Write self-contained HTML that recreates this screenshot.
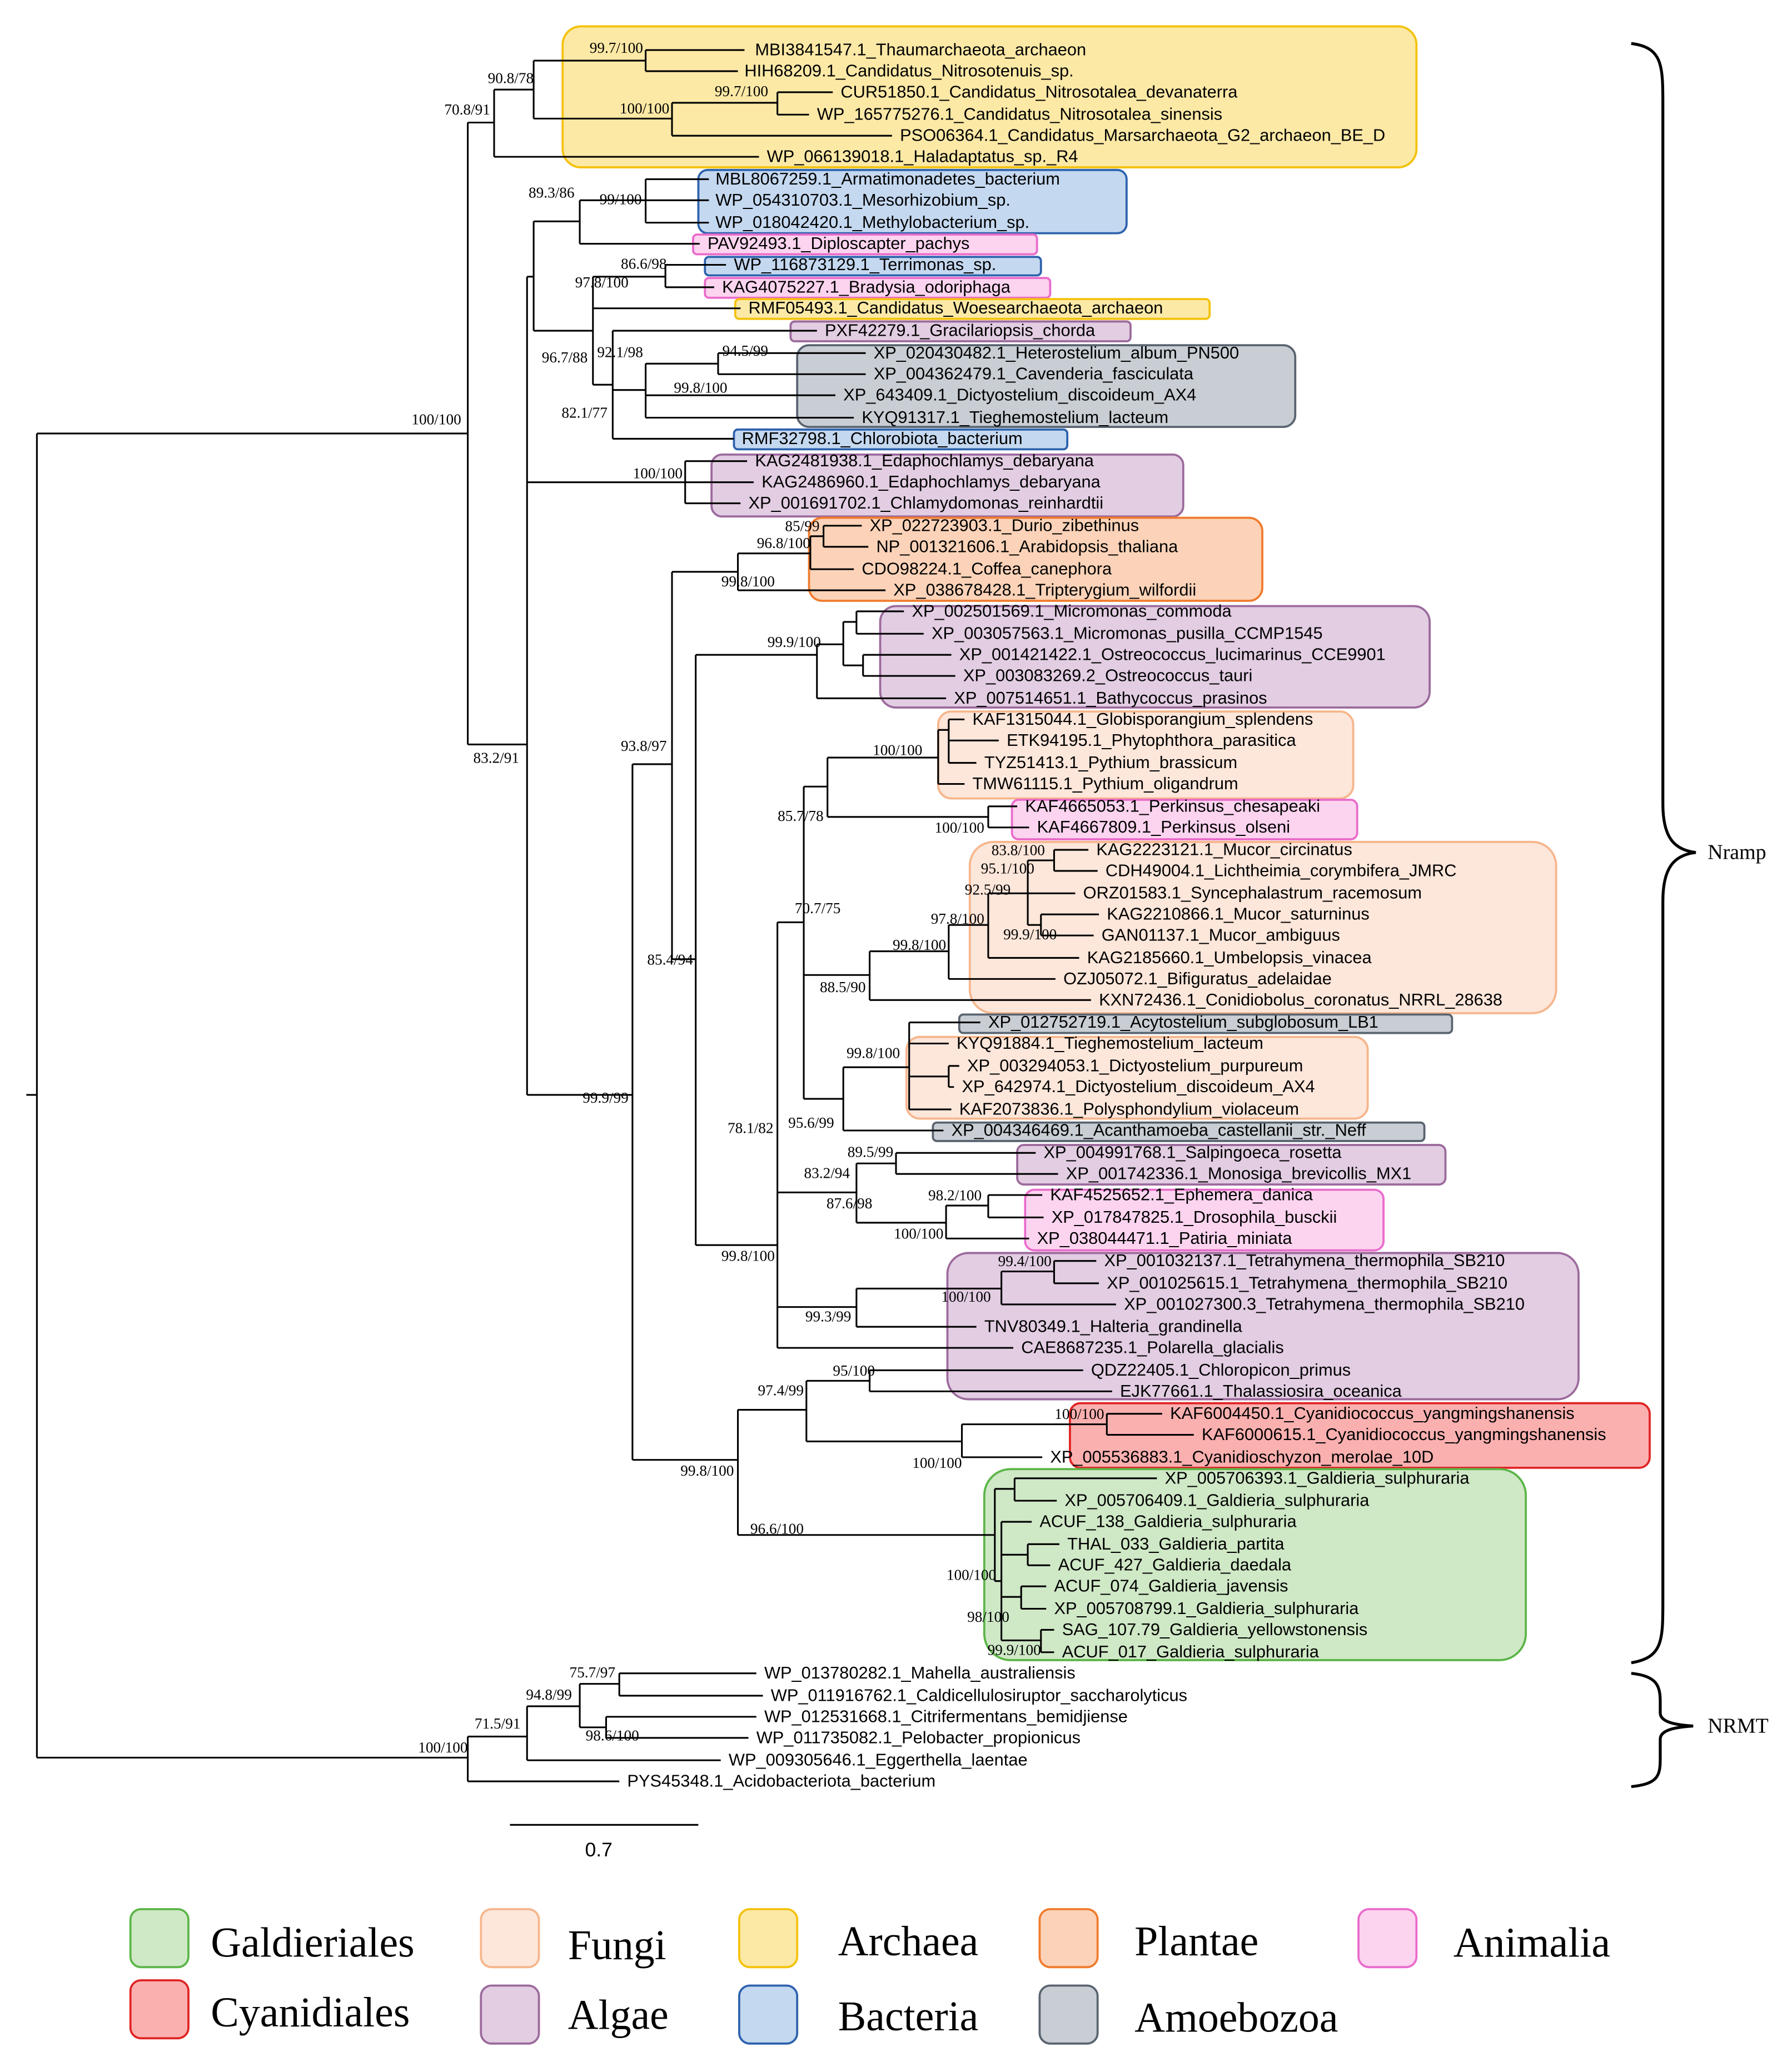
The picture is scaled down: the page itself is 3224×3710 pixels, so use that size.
<!DOCTYPE html>
<html><head><meta charset="utf-8"><style>html,body{margin:0;padding:0;background:#fff}svg{display:block}</style></head><body>
<svg xmlns="http://www.w3.org/2000/svg" width="3224" height="3710" viewBox="0 0 1360 1565">
<rect width="1360" height="1565" fill="#fff"/>
<g stroke-width="1.6">
<rect x="427" y="20" width="648" height="107" rx="14" fill="#fde9a6" stroke="#f4c20d"/>
<rect x="530" y="129" width="325" height="48" rx="7" fill="#c4d8f0" stroke="#2e62ad"/>
<rect x="526" y="178" width="261" height="15" rx="3" fill="#fcd4ef" stroke="#ea6bcb"/>
<rect x="535" y="195" width="255" height="14" rx="3" fill="#c4d8f0" stroke="#2e62ad"/>
<rect x="535" y="211" width="262" height="15" rx="3" fill="#fcd4ef" stroke="#ea6bcb"/>
<rect x="558" y="227" width="360" height="15" rx="3" fill="#fde9a6" stroke="#f4c20d"/>
<rect x="600" y="244" width="258" height="15" rx="3" fill="#e2cde2" stroke="#9c6a9c"/>
<rect x="605" y="262" width="378" height="62" rx="9" fill="#c9ced4" stroke="#5a6470"/>
<rect x="557" y="326" width="253" height="15" rx="3" fill="#c4d8f0" stroke="#2e62ad"/>
<rect x="540" y="345" width="358" height="47" rx="8" fill="#e2cde2" stroke="#9c6a9c"/>
<rect x="614" y="393" width="344" height="63" rx="10" fill="#fcd3b8" stroke="#f07b2e"/>
<rect x="668" y="460" width="417" height="77" rx="12" fill="#e2cde2" stroke="#9c6a9c"/>
<rect x="712" y="540" width="315" height="66" rx="10" fill="#fde6da" stroke="#f6b68c"/>
<rect x="768" y="607" width="262" height="30" rx="5" fill="#fcd4ef" stroke="#ea6bcb"/>
<rect x="736" y="639" width="445" height="130" rx="18" fill="#fde6da" stroke="#f6b68c"/>
<rect x="728" y="770" width="374" height="14" rx="3" fill="#c9ced4" stroke="#5a6470"/>
<rect x="688" y="787" width="350" height="62" rx="10" fill="#fde6da" stroke="#f6b68c"/>
<rect x="708" y="852" width="373" height="14" rx="3" fill="#c9ced4" stroke="#5a6470"/>
<rect x="772" y="869" width="325" height="30" rx="5" fill="#e2cde2" stroke="#9c6a9c"/>
<rect x="778" y="903" width="272" height="46" rx="7" fill="#fcd4ef" stroke="#ea6bcb"/>
<rect x="719" y="951" width="479" height="111" rx="16" fill="#e2cde2" stroke="#9c6a9c"/>
<rect x="812" y="1065" width="440" height="49" rx="8" fill="#fbb0b0" stroke="#e02424"/>
<rect x="747" y="1115" width="411" height="145" rx="20" fill="#cfe8c6" stroke="#5cb548"/>
</g>
<g stroke="#000" stroke-width="1.3" fill="none">
<path d="M20 831H28M28 329V1334M28 329H355M355 93V565M28 1334H355
M355 93H375M375 68V119M375 68H405M405 46V90M405 46H490M490 38V54M490 38H565M490 54H560
M405 90H510M510 78V103M510 78H590M590 70V87M590 70H632M590 87H614M510 103H677M375 119H576
M355 565H400M400 210V831M400 210H405M405 168V251M405 168H440M440 152V185M440 152H490M490 136V169M490 136H538M490 152H538M490 169H538M440 185H531
M405 251H450M450 210V292M450 210H505M505 201V218M505 201H551M505 218H542M450 234H562M450 292H465M465 251V333M465 251H620M465 296H490M490 276V317M490 276H545M545 268V284M545 268H657M545 284H657M490 300H634M490 317H648M465 333H557
M400 366H520M520 350V382M520 350H567M520 366H572M520 382H562
M400 831H480M480 580V1108M480 580H510M510 434V728M510 434H560M560 420V448M560 420H615M615 407V432M615 407H625M625 399V415M625 399H654M625 415H659M615 432H648M560 448H672
M510 728H528M528 497V945M528 497H620M620 489V530M620 489H640M640 472V505M640 472H650M650 464V481M650 464H686M650 481H701M640 505H655M655 497V513M655 497H722M655 513H725M620 530H718
M528 945H590M590 700V1023M590 700H610M610 597V834M610 597H628M628 575V620M628 575H712M712 554V595M712 554H720M720 546V579M720 546H732M720 562H758M720 579H741M712 595H732M628 620H750M750 612V628M750 612H772M750 628H781
M610 740H660M660 722V759M660 722H720M720 702V743M720 702H750M750 678V727M750 678H780M780 653V702M780 653H800M800 645V661M800 645H826M800 661H833M780 678H816M780 702H790M790 694V710M790 694H834M790 710H830M750 727H819M720 743H801M660 759H828
M610 834H640M640 810V858M640 810H690M690 776V842M690 776H744M690 792H720M690 817H720M720 809V825M720 809H728M720 825H724M690 842H722M640 858H716
M590 905H650M650 883V928M650 883H680M680 875V891M680 875H786M680 891H803M650 928H718M718 915V940M718 915H750M750 907V924M750 907H791M750 924H792M718 940H781
M590 992H650M650 978V1007M650 978H760M760 965V990M760 965H800M800 957V974M800 957H832M800 974H834M760 990H847M650 1007H741M590 1023H769
M480 1108H560M560 1070V1165M560 1070H612M612 1048V1094M612 1048H660M660 1040V1056M660 1040H822M660 1056H844M612 1094H730M730 1081V1106M730 1081H840M840 1073V1089M840 1073H882M840 1089H906M730 1106H791
M560 1165H755M755 1130V1200M755 1130H770M770 1122V1139M770 1122H878M770 1139H802M755 1200H760M760 1155V1245M760 1155H783M760 1180H780M780 1172V1188M780 1172H804M780 1188H797M760 1212H775M775 1204V1221M775 1204H794M775 1221H794M760 1245H790M790 1237V1254M790 1237H800M790 1254H800
M355 1318V1352M355 1318H400M400 1295V1336M400 1295H440M440 1278V1311M440 1278H470M470 1270V1287M470 1270H574M470 1287H579M440 1311H460M460 1303V1319M460 1303H574M460 1319H568M400 1336H547M355 1352H470
M387 1385H530"/>
<path d="M1238 33 C1262 36 1262 50 1262 80 V610 C1262 635 1270 645 1287 647 C1270 649 1262 659 1262 684 V1215 C1262 1245 1262 1258 1238 1262" stroke-width="2.2"/>
<path d="M1238 1270 C1258 1272 1260 1280 1260 1292 V1300 C1260 1306 1268 1309 1285 1310 C1268 1311 1260 1314 1260 1320 V1335 C1260 1348 1258 1354 1238 1356" stroke-width="2.2"/>
</g>
<g font-family="Liberation Sans, sans-serif" font-size="13" fill="#000">
<text x="573" y="42">MBI3841547.1_Thaumarchaeota_archaeon</text>
<text x="565" y="58">HIH68209.1_Candidatus_Nitrosotenuis_sp.</text>
<text x="638" y="74">CUR51850.1_Candidatus_Nitrosotalea_devanaterra</text>
<text x="620" y="91">WP_165775276.1_Candidatus_Nitrosotalea_sinensis</text>
<text x="683" y="107">PSO06364.1_Candidatus_Marsarchaeota_G2_archaeon_BE_D</text>
<text x="582" y="123">WP_066139018.1_Haladaptatus_sp._R4</text>
<text x="543" y="140">MBL8067259.1_Armatimonadetes_bacterium</text>
<text x="543" y="156">WP_054310703.1_Mesorhizobium_sp.</text>
<text x="543" y="173">WP_018042420.1_Methylobacterium_sp.</text>
<text x="537" y="189">PAV92493.1_Diploscapter_pachys</text>
<text x="557" y="205">WP_116873129.1_Terrimonas_sp.</text>
<text x="548" y="222">KAG4075227.1_Bradysia_odoriphaga</text>
<text x="568" y="238">RMF05493.1_Candidatus_Woesearchaeota_archaeon</text>
<text x="626" y="255">PXF42279.1_Gracilariopsis_chorda</text>
<text x="663" y="272">XP_020430482.1_Heterostelium_album_PN500</text>
<text x="663" y="288">XP_004362479.1_Cavenderia_fasciculata</text>
<text x="640" y="304">XP_643409.1_Dictyostelium_discoideum_AX4</text>
<text x="654" y="321">KYQ91317.1_Tieghemostelium_lacteum</text>
<text x="563" y="337">RMF32798.1_Chlorobiota_bacterium</text>
<text x="573" y="354">KAG2481938.1_Edaphochlamys_debaryana</text>
<text x="578" y="370">KAG2486960.1_Edaphochlamys_debaryana</text>
<text x="568" y="386">XP_001691702.1_Chlamydomonas_reinhardtii</text>
<text x="660" y="403">XP_022723903.1_Durio_zibethinus</text>
<text x="665" y="419">NP_001321606.1_Arabidopsis_thaliana</text>
<text x="654" y="436">CDO98224.1_Coffea_canephora</text>
<text x="678" y="452">XP_038678428.1_Tripterygium_wilfordii</text>
<text x="692" y="468">XP_002501569.1_Micromonas_commoda</text>
<text x="707" y="485">XP_003057563.1_Micromonas_pusilla_CCMP1545</text>
<text x="728" y="501">XP_001421422.1_Ostreococcus_lucimarinus_CCE9901</text>
<text x="731" y="517">XP_003083269.2_Ostreococcus_tauri</text>
<text x="724" y="534">XP_007514651.1_Bathycoccus_prasinos</text>
<text x="738" y="550">KAF1315044.1_Globisporangium_splendens</text>
<text x="764" y="566">ETK94195.1_Phytophthora_parasitica</text>
<text x="747" y="583">TYZ51413.1_Pythium_brassicum</text>
<text x="738" y="599">TMW61115.1_Pythium_oligandrum</text>
<text x="778" y="616">KAF4665053.1_Perkinsus_chesapeaki</text>
<text x="787" y="632">KAF4667809.1_Perkinsus_olseni</text>
<text x="832" y="649">KAG2223121.1_Mucor_circinatus</text>
<text x="839" y="665">CDH49004.1_Lichtheimia_corymbifera_JMRC</text>
<text x="822" y="682">ORZ01583.1_Syncephalastrum_racemosum</text>
<text x="840" y="698">KAG2210866.1_Mucor_saturninus</text>
<text x="836" y="714">GAN01137.1_Mucor_ambiguus</text>
<text x="825" y="731">KAG2185660.1_Umbelopsis_vinacea</text>
<text x="807" y="747">OZJ05072.1_Bifiguratus_adelaidae</text>
<text x="834" y="763">KXN72436.1_Conidiobolus_coronatus_NRRL_28638</text>
<text x="750" y="780">XP_012752719.1_Acytostelium_subglobosum_LB1</text>
<text x="726" y="796">KYQ91884.1_Tieghemostelium_lacteum</text>
<text x="734" y="813">XP_003294053.1_Dictyostelium_purpureum</text>
<text x="730" y="829">XP_642974.1_Dictyostelium_discoideum_AX4</text>
<text x="728" y="846">KAF2073836.1_Polysphondylium_violaceum</text>
<text x="722" y="862">XP_004346469.1_Acanthamoeba_castellanii_str._Neff</text>
<text x="792" y="879">XP_004991768.1_Salpingoeca_rosetta</text>
<text x="809" y="895">XP_001742336.1_Monosiga_brevicollis_MX1</text>
<text x="797" y="911">KAF4525652.1_Ephemera_danica</text>
<text x="798" y="928">XP_017847825.1_Drosophila_busckii</text>
<text x="787" y="944">XP_038044471.1_Patiria_miniata</text>
<text x="838" y="961">XP_001032137.1_Tetrahymena_thermophila_SB210</text>
<text x="840" y="978">XP_001025615.1_Tetrahymena_thermophila_SB210</text>
<text x="853" y="994">XP_001027300.3_Tetrahymena_thermophila_SB210</text>
<text x="747" y="1011">TNV80349.1_Halteria_grandinella</text>
<text x="775" y="1027">CAE8687235.1_Polarella_glacialis</text>
<text x="828" y="1044">QDZ22405.1_Chloropicon_primus</text>
<text x="850" y="1060">EJK77661.1_Thalassiosira_oceanica</text>
<text x="888" y="1077">KAF6004450.1_Cyanidiococcus_yangmingshanensis</text>
<text x="912" y="1093">KAF6000615.1_Cyanidiococcus_yangmingshanensis</text>
<text x="797" y="1110">XP_005536883.1_Cyanidioschyzon_merolae_10D</text>
<text x="884" y="1126">XP_005706393.1_Galdieria_sulphuraria</text>
<text x="808" y="1143">XP_005706409.1_Galdieria_sulphuraria</text>
<text x="789" y="1159">ACUF_138_Galdieria_sulphuraria</text>
<text x="810" y="1176">THAL_033_Galdieria_partita</text>
<text x="803" y="1192">ACUF_427_Galdieria_daedala</text>
<text x="800" y="1208">ACUF_074_Galdieria_javensis</text>
<text x="800" y="1225">XP_005708799.1_Galdieria_sulphuraria</text>
<text x="806" y="1241">SAG_107.79_Galdieria_yellowstonensis</text>
<text x="806" y="1258">ACUF_017_Galdieria_sulphuraria</text>
<text x="580" y="1274">WP_013780282.1_Mahella_australiensis</text>
<text x="585" y="1291">WP_011916762.1_Caldicellulosiruptor_saccharolyticus</text>
<text x="580" y="1307">WP_012531668.1_Citrifermentans_bemidjiense</text>
<text x="574" y="1323">WP_011735082.1_Pelobacter_propionicus</text>
<text x="553" y="1340">WP_009305646.1_Eggerthella_laentae</text>
<text x="476" y="1356">PYS45348.1_Acidobacteriota_bacterium</text>
<text x="444" y="1409" font-size="15">0.7</text>
</g>
<g font-family="Liberation Serif, serif" font-size="11.5" fill="#000" text-anchor="end">
<text x="488" y="40">99.7/100</text><text x="405" y="63">90.8/78</text><text x="372" y="87">70.8/91</text>
<text x="583" y="73">99.7/100</text><text x="508" y="86">100/100</text><text x="436" y="150">89.3/86</text>
<text x="487" y="155">99/100</text><text x="506" y="204">86.6/98</text><text x="477" y="218">97.8/100</text>
<text x="446" y="275">96.7/88</text><text x="488" y="271">92.1/98</text><text x="583" y="270">94.5/99</text>
<text x="552" y="298">99.8/100</text><text x="461" y="317">82.1/77</text><text x="350" y="322">100/100</text>
<text x="518" y="363">100/100</text><text x="622" y="403">85/99</text><text x="615" y="416">96.8/100</text>
<text x="588" y="445">99.8/100</text><text x="623" y="491">99.9/100</text><text x="700" y="573">100/100</text>
<text x="506" y="570">93.8/97</text><text x="625" y="623">85.7/78</text><text x="747" y="632">100/100</text>
<text x="793" y="649">83.8/100</text><text x="785" y="663">95.1/100</text><text x="767" y="679">92.5/99</text>
<text x="638" y="693">70.7/75</text><text x="747" y="701">97.8/100</text><text x="802" y="713">99.9/100</text>
<text x="718" y="721">99.8/100</text><text x="526" y="732">85.4/94</text><text x="657" y="753">88.5/90</text>
<text x="683" y="803">99.8/100</text><text x="633" y="856">95.6/99</text><text x="587" y="860">78.1/82</text>
<text x="645" y="894">83.2/94</text><text x="678" y="878">89.5/99</text><text x="662" y="917">87.6/98</text>
<text x="745" y="911">98.2/100</text><text x="716" y="940">100/100</text><text x="588" y="957">99.8/100</text>
<text x="798" y="961">99.4/100</text><text x="752" y="988">100/100</text><text x="646" y="1003">99.3/99</text>
<text x="664" y="1044">95/100</text><text x="610" y="1059">97.4/99</text><text x="838" y="1077">100/100</text>
<text x="730" y="1114">100/100</text><text x="557" y="1120">99.8/100</text><text x="610" y="1164">96.6/100</text>
<text x="756" y="1199">100/100</text><text x="766" y="1231">98/100</text><text x="790" y="1256">99.9/100</text>
<text x="467" y="1273">75.7/97</text><text x="434" y="1290">94.8/99</text><text x="395" y="1312">71.5/91</text>
<text x="485" y="1321">98.6/100</text><text x="355" y="1330">100/100</text><text x="394" y="579">83.2/91</text>
<text x="477" y="837">99.9/99</text>
</g>
<g font-family="Liberation Serif, serif" fill="#000">
<text x="1296" y="652" font-size="16">Nramp</text>
<text x="1296" y="1315" font-size="16">NRMT</text>
</g>
<g stroke-width="1.6">
<rect x="99" y="1449" width="44" height="44" rx="8" fill="#cfe8c6" stroke="#5cb548"/>
<rect x="99" y="1503" width="44" height="44" rx="8" fill="#fbb0b0" stroke="#e02424"/>
<rect x="365" y="1449" width="44" height="44" rx="8" fill="#fde6da" stroke="#f6b68c"/>
<rect x="365" y="1507" width="44" height="44" rx="8" fill="#e2cde2" stroke="#9c6a9c"/>
<rect x="561" y="1449" width="44" height="44" rx="8" fill="#fde9a6" stroke="#f4c20d"/>
<rect x="561" y="1507" width="44" height="44" rx="8" fill="#c4d8f0" stroke="#2e62ad"/>
<rect x="789" y="1449" width="44" height="44" rx="8" fill="#fcd3b8" stroke="#f07b2e"/>
<rect x="789" y="1507" width="44" height="44" rx="8" fill="#c9ced4" stroke="#5a6470"/>
<rect x="1031" y="1449" width="44" height="44" rx="8" fill="#fcd4ef" stroke="#ea6bcb"/>
</g>
<g font-family="Liberation Serif, serif" font-size="32" fill="#000">
<text x="160" y="1485">Galdieriales</text><text x="160" y="1538">Cyanidiales</text>
<text x="431" y="1487">Fungi</text><text x="431" y="1540">Algae</text>
<text x="636" y="1484">Archaea</text><text x="636" y="1541">Bacteria</text>
<text x="861" y="1484">Plantae</text><text x="861" y="1542">Amoebozoa</text>
<text x="1103" y="1485">Animalia</text>
</g>
</svg>
</body></html>
